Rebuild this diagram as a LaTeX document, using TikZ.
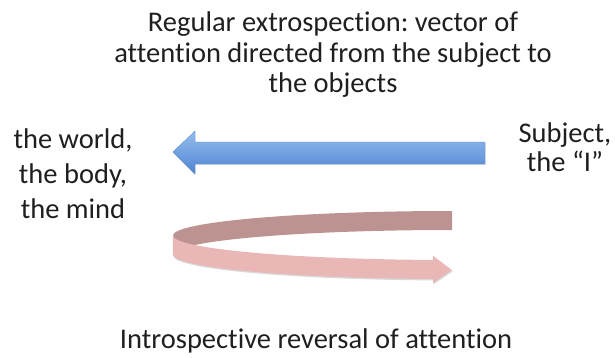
\documentclass[tikz,border=0pt]{standalone}
\usepackage{fontspec}
\setmainfont{Carlito}[Ligatures=NoCommon]
\usetikzlibrary{shadows}
\frenchspacing

\definecolor{extroTop}{HTML}{97BDF0}
\definecolor{extroBot}{HTML}{4E85D1}
\definecolor{extroLine}{HTML}{5A8CCF}
\definecolor{backBand}{HTML}{BC9391}
\definecolor{frontBand}{HTML}{E9B7B5}

\begin{document}
\begin{tikzpicture}[x=1pt,y=1pt,
			label text/.style={font=\fontsize{28.5}{30.5}\selectfont,text=black!88,align=center,inner sep=0pt},
			extro arrow/.style={top color=extroTop,bottom color=extroBot,draw=extroLine,line width=0.4pt,
				drop shadow={opacity=0.25,shadow xshift=0.6pt,shadow yshift=-1.2pt}},
			back band/.style={fill=backBand},
			front band/.style={fill=frontBand,
				drop shadow={opacity=0.3,shadow xshift=0.6pt,shadow yshift=-1.4pt}}
			]
			\useasboundingbox (0,0) rectangle (615,357);

			\def \rx {279};
			\def \ry {24.5};
			\def \h {19};

			% texts
			\node[label text] (title) at (333,302) {Regular extrospection: vector of\\attention directed from the subject to\\the objects};
			\node[label text,font=\fontsize{28.5}{35}\selectfont] (objects) at (73,183) {the world,\\the body,\\the mind};
			\node[label text,font=\fontsize{28.5}{29}\selectfont] (subject) at (565,210) {Subject,\\the ``I''};
			\node[label text] (intro) at (316,16) {Introspective reversal of attention};

			% regular extrospection
			\coordinate (tip) at (173,205);
			\draw[extro arrow] (tip) -- (195,226) -- (195,215) -- (485,215) -- (485,193) -- (195,193) -- (195,183) -- cycle;

			% introspective reversal
			\coordinate (turn) at (173,121.5);
			\fill[back band] (452,146) arc[start angle=90,end angle=180,x radius=\rx,y radius=\ry]
				-- ++(0,-\h) arc[start angle=180,end angle=90,x radius=\rx,y radius=\ry] -- cycle;
			\fill[front band] (turn) arc[start angle=180,end angle=266.1,x radius=\rx,y radius=\ry]
				-- ++(0,4) -- (452,87) -- (433,74) -- (433,78)
				arc[start angle=266.1,end angle=180,x radius=\rx,y radius=\ry] -- cycle;
\end{tikzpicture}
\end{document}
